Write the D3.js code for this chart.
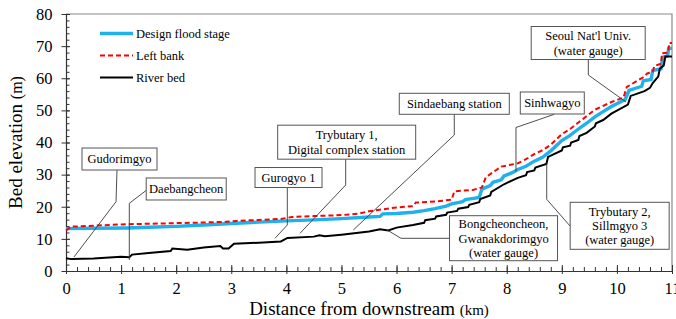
<!DOCTYPE html>
<html>
<head>
<meta charset="utf-8">
<script src="https://cdn.jsdelivr.net/npm/d3@7"></script>
<style>
  body { margin: 0; background: #fff; }
  svg { display: block; font-family: "Liberation Serif", "Times New Roman", serif; }
</style>
</head>
<body>
<svg id="chart" width="676" height="319"></svg>
<script>
// values: [distance km, elevation m]
const designFlood = [
  [0, 13.2], [0.5, 13.3], [1.1, 13.4], [1.5, 13.6], [2, 13.9], [2.5, 14.3], [3, 14.8],
  [3.5, 15.2], [4, 15.6], [4.5, 15.9], [5, 16.3], [5.5, 16.8], [5.7, 17.0], [5.75, 17.8],
  [6, 17.9], [6.3, 18.3], [6.5, 18.8], [6.7, 19.4], [6.9, 20.2], [7, 20.9], [7.2, 21.6],
  [7.25, 22.2], [7.4, 22.6], [7.5, 22.9], [7.55, 25.5], [7.7, 26.6], [7.75, 27.6],
  [7.9, 28.4], [7.95, 29.6], [8.1, 30.6], [8.2, 31.6], [8.35, 32.6], [8.5, 34.2],
  [8.65, 35.4], [8.8, 37.4], [9.0, 40.6], [9.15, 42.2], [9.3, 44.2], [9.45, 46.0],
  [9.6, 48.0], [9.75, 49.6], [9.9, 51.2], [10.15, 53.4], [10.22, 56.2], [10.45, 57.5],
  [10.48, 59.2], [10.62, 59.6], [10.65, 62.4], [10.8, 62.9], [10.83, 66.5], [10.92, 67],
  [10.94, 69.3], [11, 69.3]
];
const leftBank = [
  [0, 12.6], [0.1, 13.8], [0.5, 14.1], [1, 14.5], [1.5, 14.7], [2, 14.9], [2.5, 15.1],
  [2.9, 15.3], [3.1, 15.6], [3.5, 15.9], [3.9, 16.2], [4.1, 16.8], [4.5, 17.1], [5, 17.4],
  [5.3, 17.8], [5.5, 18.6], [6, 19.8], [6.3, 20.2], [6.35, 21.3], [6.7, 21.6], [7, 22.2],
  [7.05, 24.8], [7.4, 25.3], [7.55, 26], [7.62, 29.2], [7.9, 32.5], [8.2, 33.5],
  [8.35, 34.8], [8.5, 36.4], [8.65, 37.6], [8.8, 39.3], [9.0, 42.6], [9.15, 44.2],
  [9.3, 46.2], [9.45, 48.2], [9.6, 50.2], [9.9, 52.6], [10.12, 54.0], [10.18, 57.3],
  [10.5, 60.5], [10.55, 61.5], [10.65, 62], [10.68, 63.8], [10.8, 64.5], [10.82, 67.8],
  [10.93, 68], [10.95, 71], [11, 71]
];
const riverBed = [
  [0, 4.0], [0.1, 3.7], [0.5, 3.9], [1, 4.4], [1.15, 4.3], [1.2, 5.1], [1.5, 5.6],
  [1.9, 6.2], [1.93, 7.0], [2.2, 6.6], [2.5, 7.3], [2.8, 7.8], [2.85, 7.0], [2.95, 7.0],
  [3.05, 8.5], [3.5, 8.8], [3.9, 9.2], [4.02, 10.3], [4.5, 10.7], [4.6, 11.1], [4.7, 10.8],
  [5, 11.3], [5.5, 12.3], [5.7, 13.0], [5.85, 12.6], [6.0, 13.5], [6.3, 14.3], [6.5, 15.0],
  [6.52, 15.8], [6.7, 16.3], [6.72, 17.0], [6.9, 17.5], [6.92, 18.2], [7.1, 18.7],
  [7.12, 19.4], [7.3, 19.9], [7.32, 20.6], [7.5, 21.4], [7.52, 22.4], [7.7, 23.5],
  [7.72, 24.6], [7.95, 27], [8.2, 29], [8.35, 29.8], [8.37, 30.8], [8.5, 31.3],
  [8.52, 32.2], [8.72, 33.3], [8.75, 35.5], [9.0, 37.5], [9.02, 38.5], [9.15, 39.0],
  [9.17, 40.0], [9.3, 40.8], [9.32, 42.0], [9.45, 43.0], [9.6, 45], [9.62, 46.0],
  [9.75, 47.0], [9.9, 49], [10.2, 51.8], [10.25, 54.5], [10.5, 56], [10.6, 57],
  [10.65, 58.5], [10.75, 60.5], [10.78, 63], [10.85, 64], [10.88, 66.8], [11, 66.8]
];

const xTicks = d3.range(0, 12, 1);
const yTicks = d3.range(0, 81, 10);
const legendLabels = ["Design flood stage", "Left bank", "River bed"];

// annotation boxes: centre [km, m], box size in px, leader points [km, m]
const notes = [
  { lines: ["Gudorimgyo"], at: [0.971, 34.86], w: 75, h: 22,
    leader: [[0.926, 31.44], [0.908, 21.57], [0.145, 4.36]] },
  { lines: ["Daebangcheon"], at: [2.182, 25.53], w: 80, h: 22,
    leader: [[1.465, 25.21], [1.149, 21.07], [1.149, 3.42]] },
  { lines: ["Gurogyo 1"], at: [4.039, 29.1], w: 67, h: 20,
    leader: [[4.017, 26.15], [4.017, 14.32], [3.794, 10.18]] },
  { lines: ["Trybutary 1,", "Digital complex station"], at: [5.095, 40.1], w: 138, h: 34,
    leader: [[5.077, 34.77], [5.077, 26.77], [4.248, 11.74]] },
  { lines: ["Sindaebang station"], at: [7.048, 52.05], w: 110, h: 21,
    leader: [[7.048, 48.78], [7.048, 42.33], [5.215, 12.76]] },
  { lines: ["Sinhwagyo"], at: [8.827, 52.3], w: 64, h: 22,
    leader: [[8.864, 48.78], [8.168, 44.67], [8.168, 30.91]] },
  { lines: ["Seoul Nat'l Univ.", "(water gauge)"], at: [9.479, 70.97], w: 114, h: 33,
    leader: [[9.481, 65.9], [9.481, 61.01], [10.165, 52.61]] },
  { lines: ["Bongcheoncheon,", "Gwanakdorimgyo", "(water gauge)"], at: [7.942, 10.21], w: 108, h: 45,
    leader: [[6.958, 10.18], [6.081, 10.18], [5.809, 12.98]] },
  { lines: ["Trybutary 2,", "Sillmgyo 3", "(water gauge)"], at: [10.05, 14.07], w: 99, h: 47,
    leader: [[9.149, 14.01], [8.726, 22.32], [8.726, 33.53]] }
];

const svg = d3.select("#chart");
const margin = { left: 66, right: 4, top: 14, bottom: 48 };
const width = 676;
const height = 319;

const x = d3.scaleLinear().domain([0, 11]).range([margin.left, width - margin.right]);
const y = d3.scaleLinear().domain([0, 80]).range([height - margin.bottom, margin.top]);

const series = [
  { name: legendLabels[0], data: designFlood, color: "#1fb1ec", width: 3.4, dash: null },
  { name: legendLabels[1], data: leftBank, color: "#ff0000", width: 2, dash: "5,3" },
  { name: legendLabels[2], data: riverBed, color: "#000000", width: 2, dash: null }
];

// frame (top + right)
svg.append("path")
  .attr("d", `M${x(0)},${y(80)}H${x(11)}V${y(0)}`)
  .attr("fill", "none")
  .attr("stroke", "#8a8a8a")
  .attr("stroke-width", 1.2);

// minor ticks
svg.append("g")
  .attr("transform", `translate(${x(0)},0)`)
  .call(d3.axisLeft(y).tickValues(d3.range(0, 81, 2)).tickSize(-3.5).tickSizeOuter(0).tickFormat(""))
  .call(g => g.select(".domain").remove())
  .selectAll("line").attr("stroke", "#444");
svg.append("g")
  .attr("transform", `translate(0,${y(0)})`)
  .call(d3.axisBottom(x).tickValues(d3.range(0, 11.01, 0.2)).tickSize(-4).tickSizeOuter(0).tickFormat(""))
  .call(g => g.select(".domain").remove())
  .selectAll("line").attr("stroke", "#444");

// major axes
const yAxis = svg.append("g")
  .attr("transform", `translate(${x(0)},0)`)
  .call(d3.axisLeft(y).tickValues(yTicks).tickSize(4.5).tickPadding(9).tickSizeOuter(0));
yAxis.selectAll(".tick line").attr("x1", 4);

const xAxis = svg.append("g")
  .attr("transform", `translate(0,${y(0)})`)
  .call(d3.axisBottom(x).tickValues(xTicks).tickSize(3).tickPadding(8).tickSizeOuter(0));
xAxis.selectAll(".tick line").attr("y1", -6);

[xAxis, yAxis].forEach(g => {
  g.attr("font-family", null).attr("font-size", null);
  g.selectAll("text").style("font-size", "16.5px").attr("fill", "#000");
});

svg.selectAll(".domain").attr("stroke", "#333").attr("stroke-width", 1.2);
svg.selectAll(".tick line").attr("stroke", "#333");

// axis titles
const xTitle = svg.append("text")
  .attr("x", 369)
  .attr("y", 315)
  .attr("text-anchor", "middle")
  .style("font-size", "19px");
xTitle.append("tspan").text("Distance from downstream ");
xTitle.append("tspan").style("font-size", "15px").text("(km)");

const yTitle = svg.append("text")
  .attr("transform", `translate(22,${(y(0) + y(80)) / 2}) rotate(-90)`)
  .attr("text-anchor", "middle")
  .style("font-size", "19px");
yTitle.append("tspan").text("Bed elevation ");
yTitle.append("tspan").style("font-size", "16px").text("(m)");

// lines
const line = d3.line().x(d => x(d[0])).y(d => y(d[1]));
svg.append("g").selectAll("path")
  .data(series)
  .enter()
  .append("path")
  .attr("d", d => line(d.data))
  .attr("fill", "none")
  .attr("stroke", d => d.color)
  .attr("stroke-width", d => d.width)
  .attr("stroke-dasharray", d => d.dash)
  .attr("stroke-linejoin", "miter");

// legend
const legend = svg.append("g").selectAll("g")
  .data(series)
  .enter()
  .append("g")
  .attr("transform", (d, i) => `translate(100,${33.5 + i * 22})`);
legend.append("line")
  .attr("x1", 0).attr("x2", 33)
  .attr("stroke", d => d.color)
  .attr("stroke-width", d => d.width)
  .attr("stroke-dasharray", d => d.dash);
legend.append("text")
  .attr("x", 36)
  .attr("dy", "0.35em")
  .style("font-size", "12.5px")
  .text(d => d.name);

// annotations
const ann = svg.append("g").selectAll("g")
  .data(notes)
  .enter()
  .append("g");
ann.append("path")
  .attr("d", d => d3.line()(d.leader.map(p => [x(p[0]), y(p[1])])))
  .attr("fill", "none")
  .attr("stroke", "#3a3a3a")
  .attr("stroke-width", 0.9);
ann.append("rect")
  .attr("x", d => x(d.at[0]) - d.w / 2)
  .attr("y", d => y(d.at[1]) - d.h / 2)
  .attr("width", d => d.w)
  .attr("height", d => d.h)
  .attr("fill", "#fff")
  .attr("stroke", "#555")
  .attr("stroke-width", 1);
ann.each(function (d) {
  const t = d3.select(this).append("text")
    .attr("text-anchor", "middle")
    .style("font-size", "12.5px");
  const lh = 14.3;
  const top = y(d.at[1]) - (d.lines.length - 1) * lh / 2;
  d.lines.forEach((s, i) => {
    t.append("tspan")
      .attr("x", x(d.at[0]))
      .attr("y", top + i * lh)
      .attr("dy", "0.35em")
      .text(s);
  });
});
</script>
</body>
</html>
